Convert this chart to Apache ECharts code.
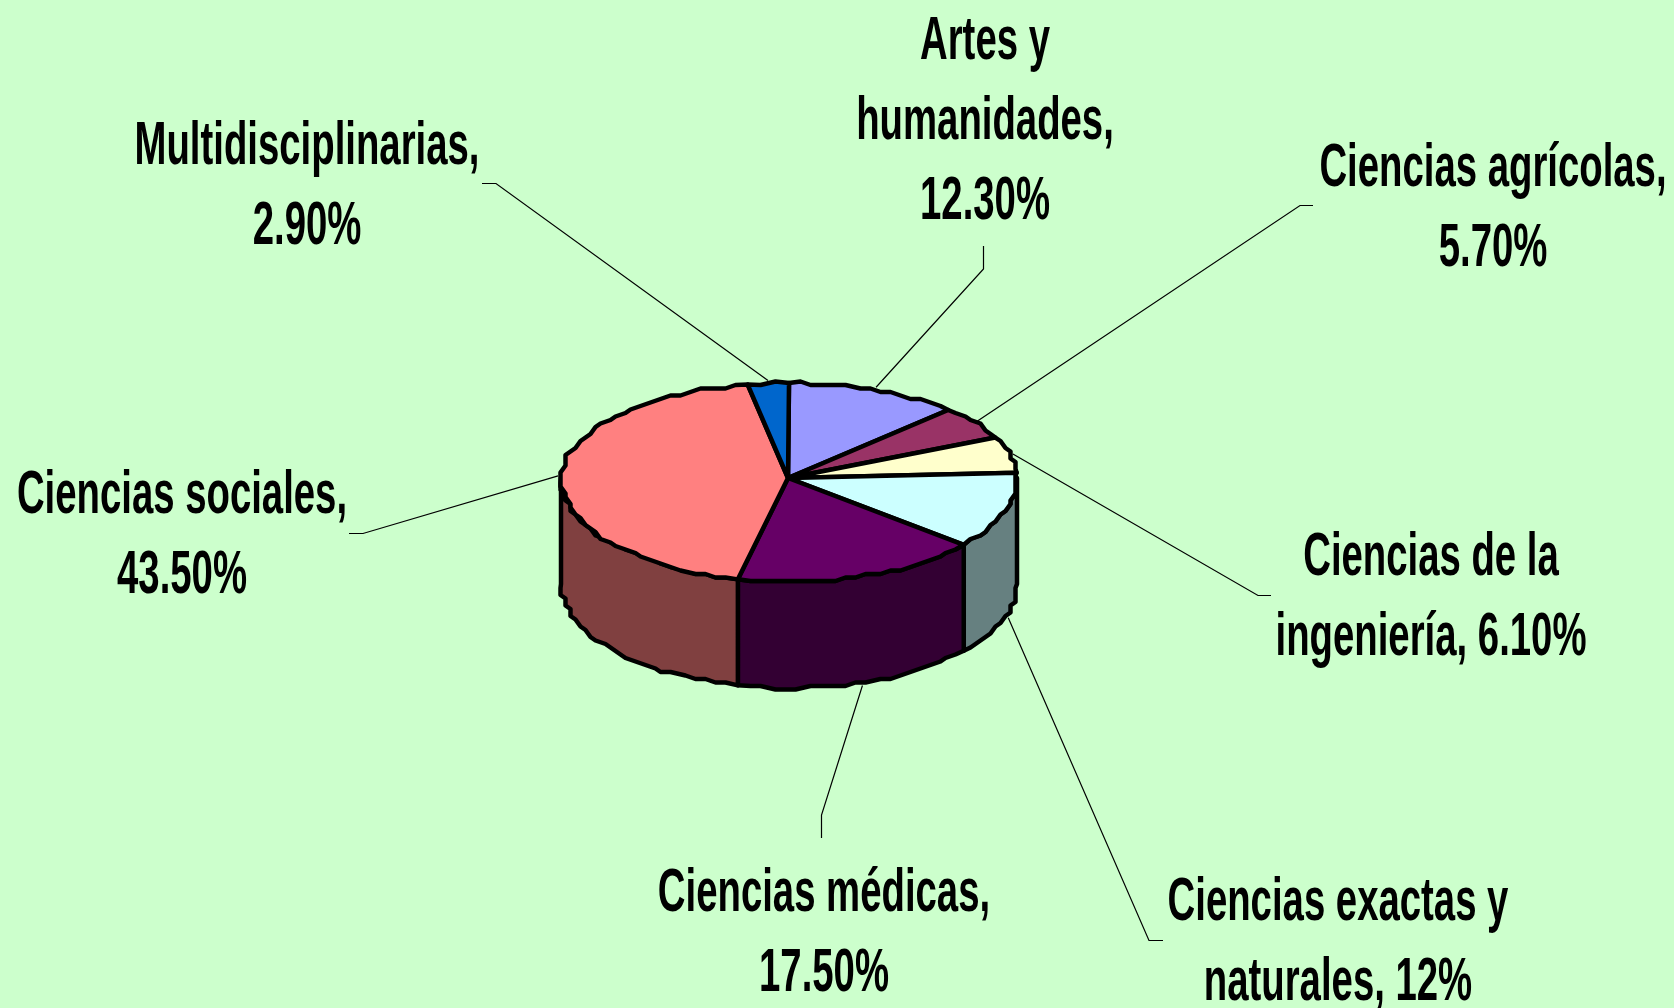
<!DOCTYPE html>
<html>
<head>
<meta charset="utf-8">
<style>
  html, body { margin: 0; padding: 0; background: #ccffcc; }
  #main { width: 1674px; height: 1008px; }
</style>
<script src="https://cdn.jsdelivr.net/npm/echarts@6/dist/echarts.min.js"></script>
</head>
<body>
<div id="main"></div>
<script>
// datos
const categories = ['Artes y humanidades', 'Ciencias agrícolas', 'Ciencias de la ingeniería', 'Ciencias exactas y naturales', 'Ciencias médicas', 'Ciencias sociales', 'Multidisciplinarias'];
const values = [12.3, 5.7, 6.1, 12, 17.5, 43.5, 2.9];
const labels = ['Artes y\nhumanidades,\n12.30%', 'Ciencias agrícolas,\n5.70%', 'Ciencias de la\ningeniería, 6.10%', 'Ciencias exactas y\nnaturales, 12%', 'Ciencias médicas,\n17.50%', 'Ciencias sociales,\n43.50%', 'Multidisciplinarias,\n2.90%'];

// estilos
const topColors = ['#9999ff', '#993366', '#ffffcc', '#ccffff', '#660066', '#ff8080', '#0066cc'];
const sideColors = ['#4d4d80', '#4d1a33', '#808066', '#668080', '#330033', '#804040', '#003366'];

// posicion de las etiquetas: centro del texto, codo y final de la guia
const labelCenters = [[985, 122], [1493, 209], [1431, 598], [1338, 943], [824, 934], [182, 536], [307, 187]];
const lineElbows = [[983.5, 269], [1300, 205.5], [1258, 595.5], [1149, 940.5], [821.5, 815], [363, 533.5], [496, 183.5]];
const lineEnds = [[983.5, 246], [1313, 205.5], [1271, 595.5], [1163, 940.5], [821.5, 838], [349, 533.5], [482, 183.5]];

// geometria de la tarta
const cx = 789, cy = 478, rx = 228, ryBack = 95, ryFront = 104, depth = 106;
const total = values.reduce((a, b) => a + b, 0);

function sliceAngles(i) {
  let before = 0;
  for (let k = 0; k < i; k++) before += values[k];
  return [before / total * Math.PI * 2, (before + values[i]) / total * Math.PI * 2];
}

// punto del borde, angulo desde arriba en sentido horario
function rimPoint(a, drop, grow) {
  const ry = Math.cos(a) > 0 ? ryBack : ryFront;
  return [cx + (rx + (grow || 0)) * Math.sin(a), cy - (ry + (grow || 0)) * Math.cos(a) + (drop || 0)];
}

// el original tiene el borde escalonado
function snap(p) {
  return [Math.round(p[0] / 5) * 5 + 0.5, Math.round(p[1] / 3.5) * 3.5];
}

function rimArc(a0, a1, drop) {
  const pts = [];
  const n = Math.max(1, Math.round((a1 - a0) / (Math.PI / 60)));
  for (let k = 0; k <= n; k++) {
    const a = a0 + (a1 - a0) * k / n;
    const p = rimPoint(a, drop);
    pts.push(k === 0 || k === n ? p : snap(p));
  }
  return pts;
}

const rows = values.map((v, i) => [i, v]);
const edge = { stroke: '#000', lineWidth: 4.5, lineJoin: 'round' };

function renderSide(params, api) {
  const i = api.value(0);
  const ang = sliceAngles(i);
  const a0 = Math.max(ang[0], Math.PI / 2);
  const a1 = Math.min(ang[1], Math.PI * 1.5);
  if (a1 <= a0) return null;
  const pts = rimArc(a0, a1, 0).concat(rimArc(a0, a1, depth).reverse());
  return { type: 'polygon', shape: { points: pts }, style: Object.assign({ fill: sideColors[i] }, edge) };
}

function renderTop(params, api) {
  const i = api.value(0);
  const ang = sliceAngles(i);
  const pts = [[cx - 1, cy]].concat(rimArc(ang[0], ang[1], 0));
  return { type: 'polygon', shape: { points: pts }, style: Object.assign({ fill: topColors[i] }, edge) };
}

function renderLabel(params, api) {
  const i = api.value(0);
  const ang = sliceAngles(i);
  const mid = (ang[0] + ang[1]) / 2;
  // las guias de abajo salen de la pared lateral
  const drop = mid > Math.PI / 2 && mid < Math.PI * 1.5 ? depth : 0;
  const start = rimPoint(mid, drop, 3);
  return {
    type: 'group',
    children: [
      {
        type: 'polyline',
        shape: { points: [start, lineElbows[i], lineEnds[i]] },
        style: { stroke: '#000', lineWidth: 1.2, fill: null }
      },
      {
        type: 'text',
        x: labelCenters[i][0],
        y: labelCenters[i][1],
        scaleX: 0.618,
        style: {
          text: labels[i],
          fontFamily: '"Liberation Sans", Arial, sans-serif',
          fontWeight: 'bold',
          fontSize: 62,
          lineHeight: 80,
          align: 'center',
          verticalAlign: 'middle',
          fill: '#000'
        }
      }
    ]
  };
}

const myChart = echarts.init(document.getElementById('main'), null, { renderer: 'canvas' });
myChart.setOption({
  animation: false,
  backgroundColor: '#ccffcc',
  series: [
    { type: 'custom', name: 'paredes', coordinateSystem: 'none', z: 1, data: rows, renderItem: renderSide },
    { type: 'custom', name: categories.join(', '), coordinateSystem: 'none', z: 2, data: rows, renderItem: renderTop },
    { type: 'custom', name: 'etiquetas', coordinateSystem: 'none', z: 3, data: rows, renderItem: renderLabel }
  ]
});
</script>
</body>
</html>
